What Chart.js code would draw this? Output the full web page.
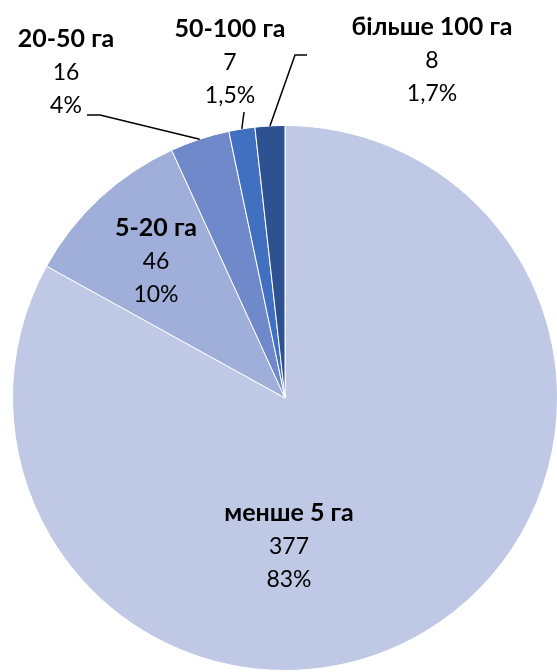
<!DOCTYPE html>
<html>
<head>
<meta charset="utf-8">
<script src="https://cdn.jsdelivr.net/npm/chart.js@4/dist/chart.umd.min.js"></script>
<style>
  html, body { margin: 0; padding: 0; background: #fff; overflow: hidden; }
  #wrap { position: relative; width: 560px; height: 680px; }
</style>
</head>
<body>
<div id="wrap"><canvas id="chart" width="560" height="680"></canvas></div>
<script>
// Farm size groups (Ukrainian labels as in the source)
const categories = ['менше 5 га', '5-20 га', '20-50 га', '50-100 га', 'більше 100 га'];
const counts = [377, 46, 16, 7, 8];
const shares = ['83%', '10%', '4%', '1,5%', '1,7%'];
const colors = ['#BFC9E5', '#A0AFDA', '#6F89CB', '#4170C0', '#2E5192'];

// label block centres (x, y of the first line) and the leader line start/elbow
const labelPos = [
  { x: 289, y: 513, leader: null },
  { x: 156, y: 228, leader: null },
  { x: 66, y: 39, leader: { from: [87, 115], elbow: [100, 115] } },
  { x: 230, y: 29, leader: { from: [244, 112], elbow: [244, 112] } },
  { x: 432, y: 27, leader: { from: [307, 55], elbow: [295, 55] } },
];

const FONT = "Lato, 'Noto Sans', sans-serif";

const labelPlugin = {
  id: 'pieLabels',
  afterDatasetsDraw(chart) {
    const { ctx } = chart;
    const meta = chart.getDatasetMeta(0);
    ctx.save();
    meta.data.forEach((arc, i) => {
      const p = labelPos[i];
      const { x: cx, y: cy, startAngle, endAngle, outerRadius } = arc.getProps(['x', 'y', 'startAngle', 'endAngle', 'outerRadius'], true);
      if (p.leader) {
        const mid = (startAngle + endAngle) / 2;
        const ex = cx + Math.cos(mid) * outerRadius;
        const ey = cy + Math.sin(mid) * outerRadius;
        ctx.strokeStyle = '#000';
        ctx.lineWidth = 1.5;
        ctx.beginPath();
        ctx.moveTo(p.leader.from[0], p.leader.from[1]);
        ctx.lineTo(p.leader.elbow[0], p.leader.elbow[1]);
        ctx.lineTo(ex, ey);
        ctx.stroke();
      }
      ctx.fillStyle = '#000';
      ctx.textAlign = 'center';
      ctx.textBaseline = 'middle';
      ctx.font = `bold 25px ${FONT}`;
      ctx.fillText(categories[i], p.x, p.y);
      ctx.font = `23px ${FONT}`;
      ctx.fillText(String(counts[i]), p.x, p.y + 34);
      ctx.fillText(shares[i], p.x, p.y + 67);
    });
    ctx.restore();
  }
};

new Chart(document.getElementById('chart'), {
  type: 'pie',
  data: {
    labels: categories,
    datasets: [{
      data: counts,
      backgroundColor: colors,
      borderColor: '#ffffff',
      borderWidth: 1,
    }],
  },
  options: {
    responsive: false,
    animation: false,
    layout: { padding: { left: 12, right: 2, top: 125, bottom: 9 } },
    plugins: {
      legend: { display: false },
      tooltip: { enabled: false },
    },
  },
  plugins: [labelPlugin],
});
</script>
</body>
</html>
